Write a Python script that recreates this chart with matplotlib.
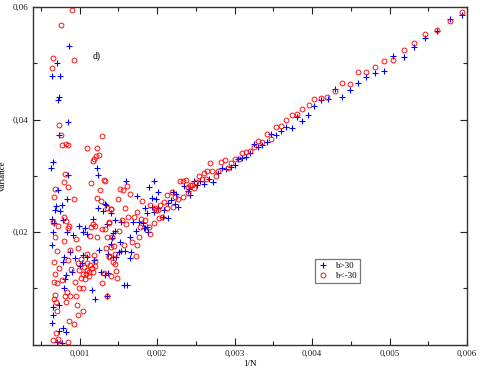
import matplotlib
matplotlib.use("Agg")
import matplotlib.pyplot as plt
import numpy as np
from matplotlib.ticker import MultipleLocator, FuncFormatter

plt.rcParams['font.family'] = ['Liberation Serif', 'DejaVu Serif']

# 1/N in units of 1e-3, variance in units of 1e-2
red_x = np.array([
    5.941, 5.777, 5.613, 5.459, 5.317, 5.180, 5.046, 4.927, 4.807, 4.695,
    4.592, 4.485, 4.385, 4.291, 4.196, 4.119, 4.028, 3.956, 3.874, 3.805,
    3.737, 3.660, 3.595, 3.535, 3.474, 3.415, 3.358, 3.303, 3.245, 3.200,
    3.148, 3.097, 3.052, 3.006, 2.957, 2.881, 2.830, 2.916, 2.791, 2.758,
    2.714, 2.684, 2.646, 2.607, 2.546, 2.500, 2.456, 2.482, 2.405, 2.371,
    2.397, 2.577, 2.637, 1.331, 1.515, 1.563, 1.606, 1.644, 1.490, 1.808,
    2.294, 2.336, 2.423, 2.186, 2.130, 2.237, 2.336, 2.272, 2.092, 2.036,
    1.972, 1.911, 1.985, 2.018, 2.134, 2.211, 1.348, 1.409, 1.585, 1.735,
    1.696, 1.624, 1.541, 1.374, 1.795, 1.847, 1.954, 2.027, 2.062, 1.782,
    1.894, 1.598, 1.353, 1.421, 1.503, 1.760, 1.902, 1.675, 1.740, 1.572,
    1.447, 1.399, 1.344, 1.727, 1.456, 1.383, 1.425, 1.451, 1.469, 1.399,
    1.482, 1.357, 0.906, 0.760, 0.661, 0.644, 0.923, 0.729, 0.755, 0.777,
    0.820, 0.845, 1.293, 1.090, 1.228, 1.211, 1.245, 1.186, 1.177, 0.812,
    0.803, 0.851, 1.142, 1.318, 0.678, 1.267, 0.665, 0.928, 1.219, 1.280,
    0.803, 0.825, 0.661, 0.716, 0.867, 1.177, 1.193, 1.151, 1.293, 1.405,
    1.383, 0.854, 0.687, 0.799, 0.948, 1.134, 1.219, 1.322, 0.713, 0.876,
    0.974, 1.090, 1.189, 1.374, 0.674, 0.851, 0.729, 0.884, 0.992, 1.048,
    1.125, 1.198, 1.099, 0.687, 0.773, 1.013, 1.070, 0.704, 0.674, 0.941,
    1.314, 1.284, 0.996, 1.039, 0.841, 0.812, 0.876, 0.687, 0.674, 0.954,
    0.696, 0.820, 0.961, 0.713, 1.039, 0.974, 0.867, 0.928, 0.696, 0.661,
    0.722, 0.851, 0.747,
    1.100, 1.140, 1.160, 1.060, 1.120, 0.980, 1.020, 1.200, 1.080, 1.170])
red_y = np.array([
    5.906, 5.756, 5.591, 5.515, 5.365, 5.230, 5.052, 5.045, 4.933, 4.839,
    4.839, 4.626, 4.649, 4.512, 4.395, 4.377, 4.359, 4.263, 4.192, 4.103,
    4.080, 3.986, 3.884, 3.876, 3.653, 3.742, 3.609, 3.618, 3.506, 3.449,
    3.417, 3.404, 3.307, 3.292, 3.236, 3.280, 3.239, 3.132, 3.079, 2.990,
    3.084, 3.221, 3.084, 3.044, 2.996, 2.894, 2.836, 2.777, 2.795, 2.919,
    2.688, 2.942, 2.948, 2.912, 2.764, 2.747, 2.818, 2.681, 2.581, 2.556,
    2.912, 2.912, 2.830, 2.706, 2.658, 2.628, 2.617, 2.581, 2.528, 2.480,
    2.421, 2.480, 2.391, 2.391, 2.421, 2.439, 2.432, 2.409, 2.432, 2.361,
    2.272, 2.261, 2.213, 2.165, 2.226, 2.213, 2.155, 2.254, 2.272, 2.084,
    2.084, 2.142, 1.916, 1.906, 2.018, 1.916, 1.964, 1.817, 1.769, 1.769,
    1.756, 1.728, 1.710, 1.579, 1.609, 1.573, 1.472, 1.431, 1.312, 1.223,
    1.177, 0.862, 5.952, 5.675, 5.099, 4.921, 5.052, 3.908, 3.719, 3.547,
    3.570, 3.541, 3.712, 3.488, 3.488, 3.356, 3.374, 3.292, 3.257, 3.031,
    2.884, 2.805, 2.866, 2.919, 2.770, 2.752, 2.622, 2.581, 2.599, 2.546,
    2.272, 2.196, 2.183, 2.107, 2.107, 2.142, 2.107, 2.094, 2.048, 2.404,
    2.172, 2.066, 1.906, 1.845, 1.876, 1.929, 1.906, 2.053, 1.662, 1.680,
    1.710, 1.604, 1.586, 1.561, 1.472, 1.502, 1.355, 1.337, 1.324, 1.248,
    1.223, 1.396, 1.324, 1.248, 1.147, 1.177, 1.164, 1.088, 1.106, 1.106,
    1.266, 1.088, 1.010, 0.999, 0.939, 0.868, 0.868, 0.880, 0.809, 0.857,
    0.750, 0.750, 0.702, 0.596, 0.596, 0.524, 0.418, 0.370, 0.199, 0.080,
    0.092, 0.050, 0.004,
    1.450, 1.420, 1.360, 1.380, 1.300, 1.450, 1.520, 1.480, 1.260, 1.290])

blue_x = np.array([
    5.941, 5.777, 5.613, 5.459, 5.317, 5.180, 5.046, 4.927, 4.807, 4.695,
    4.592, 4.485, 4.385, 4.291, 4.205, 4.119, 4.028, 3.953, 3.874, 3.805,
    3.735, 3.664, 3.595, 3.535, 3.473, 3.412, 3.358, 3.300, 3.249, 3.196,
    3.144, 3.099, 3.049, 2.999, 2.952, 2.887, 2.835, 2.787, 2.727, 2.671,
    2.611, 2.559, 2.482, 2.513, 2.430, 2.414, 1.598, 1.966, 1.898, 2.010,
    1.744, 1.928, 1.992, 2.211, 2.246, 2.349, 2.397, 1.847, 1.933, 2.010,
    2.147, 2.178, 2.237, 2.268, 2.092, 1.954, 1.869, 2.139, 2.075, 1.769,
    1.683, 1.528, 1.460, 1.399, 1.331, 1.812, 1.876, 1.830, 1.460, 1.425,
    1.653, 1.727, 1.838, 1.881, 1.515, 1.537, 1.580, 1.503, 1.662, 1.653,
    1.430, 1.473, 1.366, 1.331, 1.567, 1.611, 0.867, 0.713, 0.644, 0.747,
    0.738, 0.722, 0.854, 0.738, 0.661, 0.626, 1.219, 1.232, 0.845, 0.725,
    0.838, 0.700, 0.768, 0.742, 0.687, 1.340, 1.232, 1.305, 0.648, 0.674,
    0.781, 0.987, 1.070, 1.168, 1.357, 0.639, 0.799, 0.876, 0.941, 0.781,
    1.048, 1.245, 1.370, 0.825, 0.812, 1.026, 1.155, 1.198, 1.348, 0.799,
    0.661, 0.738, 0.661, 0.644, 0.781, 0.735, 0.825, 0.704, 0.768, 1.048,
    1.099, 0.910, 0.833, 0.661, 1.412, 1.400,
    1.000, 1.100, 1.180, 0.900, 1.280])
blue_y = np.array([
    5.852, 5.781, 5.579, 5.444, 5.284, 5.106, 5.129, 4.862, 4.821, 4.750,
    4.649, 4.524, 4.405, 4.542, 4.370, 4.347, 4.240, 4.076, 3.968, 4.044,
    3.858, 3.870, 3.801, 3.721, 3.751, 3.596, 3.541, 3.520, 3.564, 3.404,
    3.339, 3.321, 3.298, 3.198, 3.164, 3.120, 3.143, 3.044, 2.889, 2.948,
    2.853, 2.912, 2.907, 2.836, 2.658, 2.759, 2.907, 2.907, 2.795, 2.706,
    2.645, 2.610, 2.587, 2.706, 2.676, 2.812, 2.734, 2.421, 2.439, 2.421,
    2.510, 2.569, 2.492, 2.439, 2.391, 2.361, 2.343, 2.254, 2.261, 2.183,
    2.183, 2.183, 2.213, 2.332, 2.498, 2.155, 2.084, 2.066, 2.023, 1.977,
    1.916, 2.023, 2.066, 1.995, 1.828, 1.668, 1.657, 1.650, 1.650, 1.532,
    1.561, 1.550, 1.266, 1.236, 1.052, 1.052, 5.301, 4.999, 4.768, 4.768,
    4.395, 4.352, 3.961, 3.719, 3.239, 3.132, 3.143, 3.013, 3.008, 2.747,
    2.587, 2.468, 2.475, 2.379, 2.386, 2.480, 2.421, 2.373, 2.231, 2.155,
    2.213, 2.112, 2.071, 2.226, 2.142, 1.769, 1.550, 1.650, 1.532, 1.472,
    1.591, 1.680, 1.609, 1.236, 1.164, 1.444, 0.969, 0.809, 0.868, 1.010,
    0.672, 0.702, 0.524, 0.377, 0.299, 0.245, 0.217, 0.050, 0.021, 1.995,
    1.959, 1.947, 2.005, 2.005, 1.888, 1.781,
    1.400, 1.550, 1.500, 1.300, 1.300])

fig = plt.figure(figsize=(4.8, 3.71), dpi=100)
ax = fig.add_axes([0.069, 0.071, 0.904, 0.910])

ax.plot(blue_x * 1e-3, blue_y * 1e-2, linestyle='none', marker='+',
        color='#0000ff', markersize=4.2, markeredgewidth=0.8, label='b>30')
ax.plot(red_x * 1e-3, red_y * 1e-2, linestyle='none', marker='o',
        markerfacecolor='none', markeredgecolor='#ff0000', markersize=3.5,
        markeredgewidth=0.65, label='b<-30')

ax.set_xlim(0.0004, 0.006)
ax.set_ylim(0.0, 0.06)
ax.xaxis.set_major_locator(MultipleLocator(0.001))
ax.xaxis.set_minor_locator(MultipleLocator(0.0005))
ax.yaxis.set_major_locator(MultipleLocator(0.02))
ax.yaxis.set_minor_locator(MultipleLocator(0.01))
ax.xaxis.set_major_formatter(FuncFormatter(lambda v, p: ('%.3f' % v).replace('.', ',')))
ax.yaxis.set_major_formatter(FuncFormatter(
    lambda v, p: '' if abs(v) < 1e-9 else ('%.2f' % v).replace('.', ',')))
ax.tick_params(which='both', direction='in', top=True, right=True,
               labelsize=6.5, colors='#222222', width=0.8)
ax.tick_params(which='major', length=5)
ax.tick_params(which='minor', length=3)
for s in ax.spines.values():
    s.set_linewidth(1.0)
    s.set_color('#333333')

ax.set_xlabel('1/N', fontsize=6.5, labelpad=2)
ax.set_ylabel('Variance', fontsize=6.5, labelpad=4)
ax.text(0.001168, 0.0513, 'd)', fontsize=7, va='center')

leg = ax.legend(loc='upper left', bbox_to_anchor=(0.65, 0.253), fontsize=6.5,
                frameon=True, fancybox=False, edgecolor='#555555',
                handlelength=1.2, handletextpad=0.8, borderpad=0.3,
                labelspacing=0.2, borderaxespad=0)
leg.get_frame().set_linewidth(0.9)

fig.savefig('out.png', dpi=100)
